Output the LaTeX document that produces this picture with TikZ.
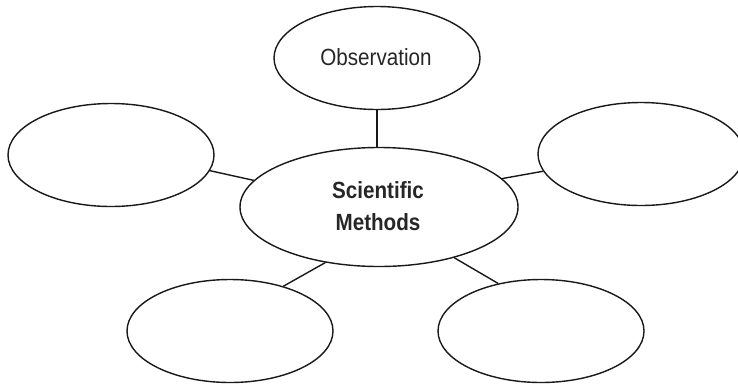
\documentclass[tikz,border=0pt]{standalone}
\usepackage{fontspec}
\setmainfont{Liberation Sans}[FakeStretch=0.88]
\usetikzlibrary{shapes.geometric}
\tikzset{
  bubble/.style={draw=black!90, line width=1.2pt, ellipse, inner sep=0pt, fill=white},
  small/.style={bubble, minimum width=206*0.03cm, minimum height=103*0.03cm},
  link/.style={draw=black!90, line width=1.2pt},
  lbl/.style={text=black!85, font=\fontsize{20pt}{27pt}\selectfont, align=center}
}
\begin{document}
\begin{tikzpicture}[x=0.03cm, y=-0.03cm]
\useasboundingbox (0,0) rectangle (738,385);
\clip (0,0) rectangle (738,385);
\node[bubble, minimum width=278*0.03cm, minimum height=119*0.03cm] (c) at (379,207) {};
\node[lbl, font=\fontsize{20pt}{27pt}\selectfont\bfseries] (ct) at (378,206) {Scientific\\Methods};
\node[small] (o) at (377,58) {};
\node[lbl] (ot) at (376,57) {Observation};
\node[small] (l) at (111,155) {};
\node[small] (r) at (641,154) {};
\node[small] (bl) at (230,331) {};
\node[small] (br) at (541,331) {};
\draw[link] (o.south) -- (o.south |- c.north);
\draw[link] (c.168) -- (l.-9.6);
\draw[link] (c.13.2) -- (r.-170.8);
\draw[link] (c.-134) -- (bl.40.3);
\draw[link] (c.-34.4) -- (br.132.5);
\end{tikzpicture}
\end{document}
